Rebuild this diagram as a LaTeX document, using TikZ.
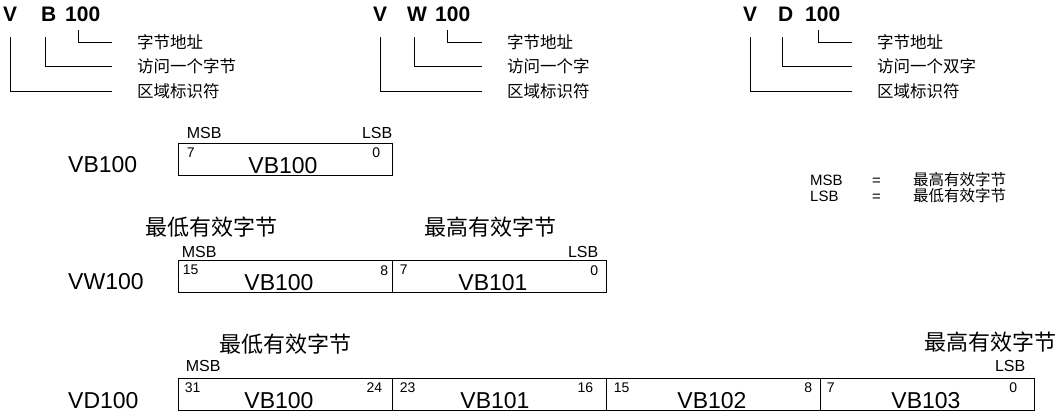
\documentclass[tikz,border=0pt]{standalone}
\usepackage{fontspec}
\setmainfont{Liberation Sans}
\newfontfamily\cjk{Noto Sans CJK SC}
\usetikzlibrary{positioning}

\begin{document}
\begin{tikzpicture}[x=1pt,y=-1pt,
  addr/.style={font=\fontsize{21}{21}\selectfont\bfseries,inner sep=0pt,anchor=base west},
  note/.style={font=\cjk\fontsize{16.5}{16.5}\selectfont,inner sep=0pt,anchor=west},
  tick/.style={line width=0.8pt},
  cell/.style={draw,line width=0.9pt,minimum width=214pt,minimum height=32pt,inner sep=0pt},
  bits/.style={font=\fontsize{14}{14}\selectfont,inner sep=0pt},
  bytename/.style={font=\fontsize{23}{23}\selectfont,inner sep=0pt,anchor=base},
  rowname/.style={font=\fontsize{23}{23}\selectfont,inner sep=0pt,anchor=base west},
  endbit/.style={font=\fontsize{16}{16}\selectfont,inner sep=0pt},
  sig/.style={font=\cjk\fontsize{22}{22}\selectfont,inner sep=0pt},
  key/.style={font=\fontsize{15}{15}\selectfont,inner sep=0pt,anchor=base west},
  keytext/.style={font=\cjk\fontsize{15.5}{15.5}\selectfont,inner sep=0pt,anchor=base west}]

\useasboundingbox (0,0) rectangle (1060,411);

% byte address
\node[addr] (V1) at (3,22) {V};
\node[addr] (B1) at (41,22) {B};
\node[addr] (n1) at (65,22) {100};
\node[note] (a1) at (137,42) {字节地址};
\node[note] (s1) at (137,66) {访问一个字节};
\node[note] (z1) at (137,91) {区域标识符};
\draw[tick] ([xshift=13pt,yshift=-8pt]n1.south west) |- ([xshift=-25pt]a1.west);
\draw[tick] ([xshift=-3pt,yshift=-15pt]B1.south) |- ([xshift=-25pt]s1.west);
\draw[tick] ([yshift=-15pt]V1.south) |- ([xshift=-25pt]z1.west);

% word address
\node[addr] (V2) at (373,22) {V};
\node[addr] (W2) at (407,22) {W};
\node[addr] (n2) at (435,22) {100};
\node[note] (a2) at (507,42) {字节地址};
\node[note] (s2) at (507,66) {访问一个字};
\node[note] (z2) at (507,91) {区域标识符};
\draw[tick] ([xshift=12pt,yshift=-8pt]n2.south west) |- ([xshift=-25pt]a2.west);
\draw[tick] ([xshift=-3pt,yshift=-15pt]W2.south) |- ([xshift=-25pt]s2.west);
\draw[tick] ([yshift=-15pt]V2.south) |- ([xshift=-25pt]z2.west);

% double word address
\node[addr] (V3) at (743,22) {V};
\node[addr] (D3) at (778,22) {D};
\node[addr] (n3) at (805,22) {100};
\node[note] (a3) at (877,42) {字节地址};
\node[note] (s3) at (877,66) {访问一个双字};
\node[note] (z3) at (877,91) {区域标识符};
\draw[tick] ([xshift=13pt,yshift=-8pt]n3.south west) |- ([xshift=-25pt]a3.west);
\draw[tick] ([xshift=-3pt,yshift=-15pt]D3.south) |- ([xshift=-25pt]s3.west);
\draw[tick] ([yshift=-15pt]V3.south) |- ([xshift=-25pt]z3.west);

% legend
\node[key] (kM) at (810,186) {MSB};
\node[key] (kMe) at (872,186) {=};
\node[keytext] (kMt) at (913,186) {最高有效字节};
\node[key] (kL) at (810,202) {LSB};
\node[key] (kLe) at (872,202) {=};
\node[keytext] (kLt) at (913,202) {最低有效字节};

% VB100
\node[rowname] (r1) at (68,173) {VB100};
\node[cell] (b10) at (285,159) {};
\node[bytename] (t10) at ([xshift=-2pt,yshift=1.5pt]b10.south) {VB100};
\node[bits,anchor=north west] (h10) at ([shift={(9pt,-5pt)}]b10.north west) {7};
\node[bits,anchor=north east] (l10) at ([shift={(-12pt,-5pt)}]b10.north east) {0};
\node[endbit,anchor=base west] (m1) at ([shift={(9pt,4pt)}]b10.north west) {MSB};
\node[endbit,anchor=base east] (e1) at ([yshift=4pt]b10.north east) {LSB};

% VW100
\node[sig] (lo2) at (211.5,227.5) {最低有效字节};
\node[sig] (hi2) at (490,227.5) {最高有效字节};
\node[rowname] (r2) at (68,290) {VW100};
\node[cell] (b20) at (285,276.5) {};
\node[cell] (b21) at (499,276.5) {};
\node[bytename] (t20) at ([xshift=-6pt,yshift=2.5pt]b20.south) {VB100};
\node[bytename] (t21) at ([xshift=-6pt,yshift=2.5pt]b21.south) {VB101};
\node[bits,anchor=north west] (h20) at ([shift={(5pt,-5pt)}]b20.north west) {15};
\node[bits,anchor=north east] (l20) at ([shift={(-4pt,-5pt)}]b20.north east) {8};
\node[bits,anchor=north west] (h21) at ([shift={(8pt,-5pt)}]b21.north west) {7};
\node[bits,anchor=north east] (l21) at ([shift={(-8pt,-5pt)}]b21.north east) {0};
\node[endbit,anchor=base west] (m2) at ([shift={(4pt,3pt)}]b20.north west) {MSB};
\node[endbit,anchor=base east] (e2) at ([shift={(-8pt,3pt)}]b21.north east) {LSB};

% VD100
\node[sig] (lo3) at (285,344) {最低有效字节};
\node[sig] (hi3) at (990,342.5) {最高有效字节};
\node[rowname] (r3) at (68,408) {VD100};
\node[cell] (b30) at (285,394) {};
\node[cell] (b31) at (499,394) {};
\node[cell] (b32) at (713,394) {};
\node[cell] (b33) at (927,394) {};
\node[bytename] (t30) at ([xshift=-6pt,yshift=1.5pt]b30.south) {VB100};
\node[bytename] (t31) at ([xshift=-4pt,yshift=1.5pt]b31.south) {VB101};
\node[bytename] (t32) at ([xshift=-1pt,yshift=1.5pt]b32.south) {VB102};
\node[bytename] (t33) at ([xshift=-1pt,yshift=1.5pt]b33.south) {VB103};
\node[bits,anchor=north west] (h30) at ([shift={(7pt,-5pt)}]b30.north west) {31};
\node[bits,anchor=north east] (l30) at ([shift={(-10pt,-5pt)}]b30.north east) {24};
\node[bits,anchor=north west] (h31) at ([shift={(8pt,-5pt)}]b31.north west) {23};
\node[bits,anchor=north east] (l31) at ([shift={(-13pt,-5pt)}]b31.north east) {16};
\node[bits,anchor=north west] (h32) at ([shift={(8pt,-5pt)}]b32.north west) {15};
\node[bits,anchor=north east] (l32) at ([shift={(-8pt,-5pt)}]b32.north east) {8};
\node[bits,anchor=north west] (h33) at ([shift={(7pt,-5pt)}]b33.north west) {7};
\node[bits,anchor=north east] (l33) at ([shift={(-17pt,-5pt)}]b33.north east) {0};
\node[endbit,anchor=base west] (m3) at ([shift={(8pt,6pt)}]b30.north west) {MSB};
\node[endbit,anchor=base east] (e3) at ([shift={(-9pt,6pt)}]b33.north east) {LSB};
\end{tikzpicture}
\end{document}
